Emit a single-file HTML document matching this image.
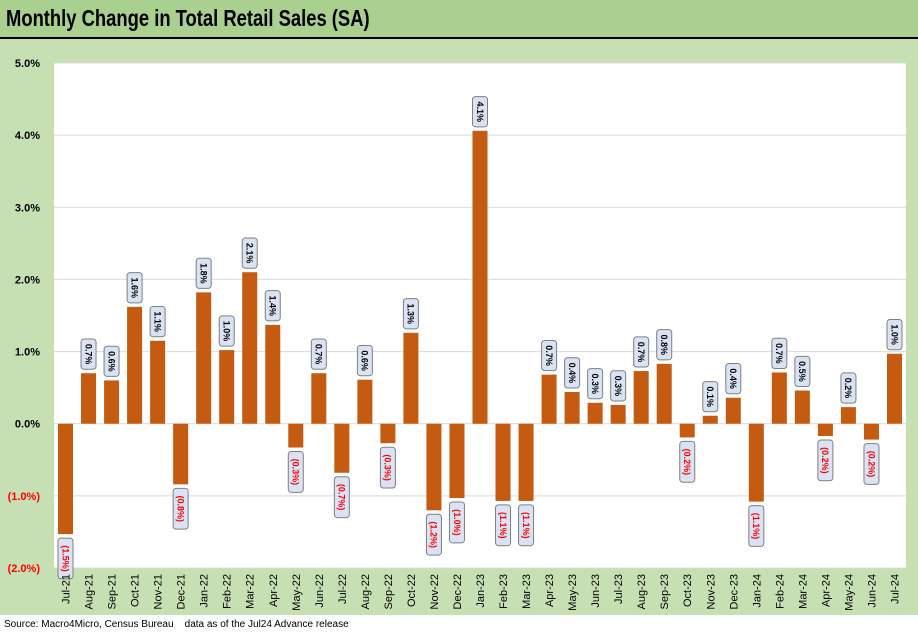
<!DOCTYPE html>
<html><head><meta charset="utf-8"><style>
body{margin:0;width:918px;height:632px;overflow:hidden;background:#fff;font-family:"Liberation Sans",sans-serif}
#title{position:absolute;left:0;top:0;width:918px;height:37px;background:#a9d08e;border-bottom:2px solid #000}
#title span{position:absolute;left:6px;top:5px;font-size:23px;font-weight:bold;color:#000;font-family:"Liberation Sans",sans-serif;transform:scaleX(0.8);transform-origin:0 0;white-space:nowrap}
#chartbg{position:absolute;left:0;top:39px;width:918px;height:576px;background:#c6e0b4}
#src{position:absolute;left:4px;top:619px;font-size:10px;color:#000}
</style></head><body>
<div id="title"><span>Monthly Change in Total Retail Sales (SA)</span></div>
<div id="chartbg"></div>
<svg id="chart" width="918" height="632" style="position:absolute;left:0;top:0"></svg>
<div id="src">Source: Macro4Micro, Census Bureau &nbsp;&nbsp;&nbsp;data as of the Jul24 Advance release</div>
<script>
const categories=["Jul-21","Aug-21","Sep-21","Oct-21","Nov-21","Dec-21","Jan-22","Feb-22","Mar-22","Apr-22","May-22","Jun-22","Jul-22","Aug-22","Sep-22","Oct-22","Nov-22","Dec-22","Jan-23","Feb-23","Mar-23","Apr-23","May-23","Jun-23","Jul-23","Aug-23","Sep-23","Oct-23","Nov-23","Dec-23","Jan-24","Feb-24","Mar-24","Apr-24","May-24","Jun-24","Jul-24"];
const values=[-1.53,0.70,0.60,1.62,1.15,-0.84,1.82,1.02,2.10,1.37,-0.33,0.70,-0.68,0.61,-0.27,1.26,-1.20,-1.03,4.06,-1.07,-1.07,0.68,0.44,0.29,0.26,0.73,0.83,-0.19,0.11,0.36,-1.08,0.71,0.46,-0.17,0.23,-0.22,0.97];
const yTicks=[5,4,3,2,1,0,-1,-2];
const NS="http://www.w3.org/2000/svg";
const svg=document.getElementById('chart');
const L=54,R=906,T=63,B=568,yMin=-2,yMax=5;
const y=v=>T+(yMax-v)/(yMax-yMin)*(B-T);
const bw=(R-L)/categories.length;
const x=i=>L+bw*(i+0.5);
function mk(t,a){const e=document.createElementNS(NS,t);for(const k in a)e.setAttribute(k,a[k]);svg.appendChild(e);return e;}
const fmt=v=>v<0?"("+Math.abs(v).toFixed(1)+"%)":v.toFixed(1)+"%";
let p=mk('rect',{x:L,y:T,width:R-L,height:B-T,fill:'#fff'});


yTicks.forEach(t=>{
 let g=mk('line',{x1:L,x2:R,y1:y(t),y2:y(t),stroke:'#d9d9d9','stroke-width':1});
 
 
 let tx=mk('text',{x:40,y:y(t)+4,'text-anchor':'end','font-size':'11','font-weight':'bold',fill:t<0?'#ff0000':'#000'});
 tx.textContent=fmt(t);
 
 
});
categories.forEach((c,i)=>{
 const v=values[i],cx=x(i),w=15;
 let r=mk('rect',{x:cx-w/2,y:Math.min(y(v),y(0)),width:w,height:Math.abs(y(v)-y(0)),fill:'#c55a11'});
 
 
 const s=fmt(v),h=s.length*5.3+9,bwid=15;
 const by=v>=0?y(v)-4-h:y(v)+4;
 let bx=mk('rect',{x:cx-bwid/2,y:by,width:bwid,height:h,rx:3,fill:'#dae3f3',stroke:'#7f7f7f','stroke-width':1});
 
 
 let lt=mk('text',{x:0,y:0,'text-anchor':'middle','font-size':'9','font-weight':'bold',fill:v<0?'#ff0000':'#000',transform:`translate(${cx-3.2},${by+h/2}) rotate(90)`});
 lt.textContent=s;
 
 
 let xt=mk('text',{x:0,y:0,'text-anchor':'end','font-size':'11',fill:'#000',transform:`translate(${cx+4},${B+6}) rotate(-90)`});
 xt.textContent=c;
 
 
});
</script>
</body></html>
